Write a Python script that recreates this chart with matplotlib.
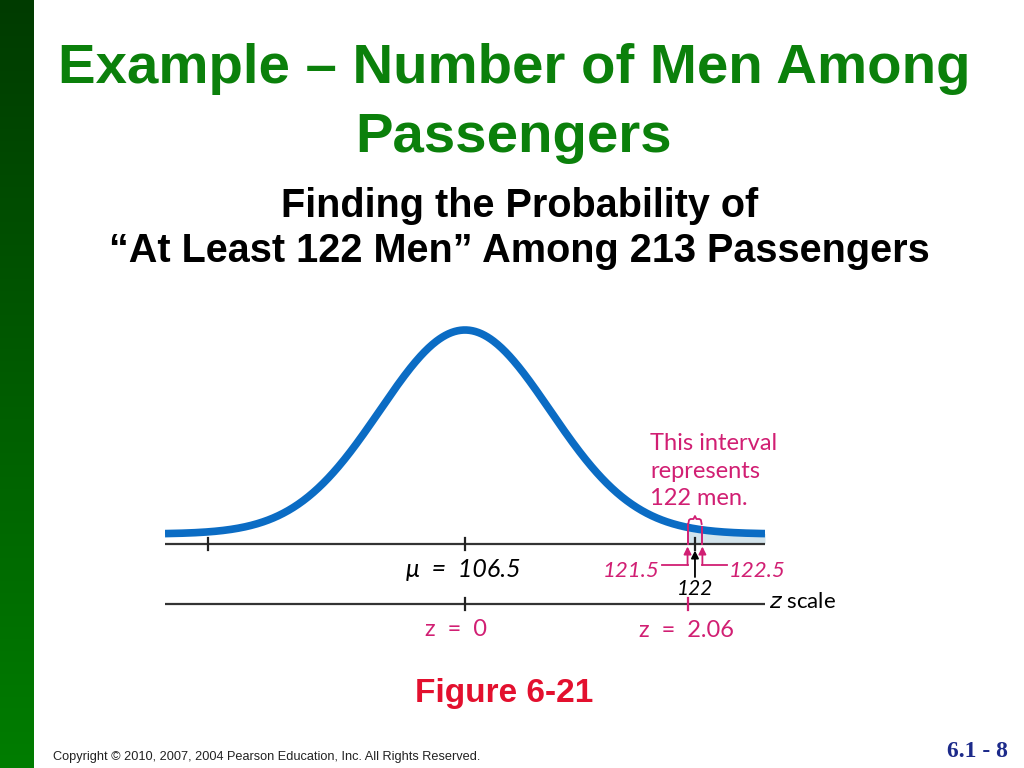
import numpy as np
import matplotlib.pyplot as plt
from matplotlib.colors import to_rgb

# values from the figure
MU = 106.5
LOW_EDGE = 121.5
HIGH_EDGE = 122.5
MEN = 122
COUNT_TICKS = [89.2, 106.5, 122]
Z_TICKS = [106.5, 121.5]
Z_LABELS = ['z  =  0', 'z  =  2.06']
X_RANGE = (86.28, 126.72)
DRAW_SD = 5.73  # spread of the drawn (schematic) curve

BLUE = '#0b6cc4'
PINK = '#d11f73'
SHADE = '#d3e4ec'
TITLE_GREEN = '#0b800b'

fig = plt.figure(figsize=(10.24, 7.68), dpi=100)

# green strip on the left
strip = fig.add_axes([0, 0, 34 / 1024, 1])
top, bottom = np.array(to_rgb('#003b00')), np.array(to_rgb('#007d00'))
t = np.linspace(0, 1, 256)[:, None]
grad = top + (bottom - top) * t
strip.imshow(grad[:, None, :], aspect='auto', extent=(0, 1, 0, 1))
strip.axis('off')


def fy(pix):
    return 1 - pix / 768


# titles
sans = 'Liberation Sans'
fig.text(0.502, fy(83), 'Example – Number of Men Among', ha='center', va='baseline',
         fontsize=40.6, fontweight='bold', color=TITLE_GREEN, family=sans)
fig.text(0.502, fy(152), 'Passengers', ha='center', va='baseline',
         fontsize=40.6, fontweight='bold', color=TITLE_GREEN, family=sans)
fig.text(0.507, fy(217), 'Finding the Probability of', ha='center', va='baseline',
         fontsize=28.5, fontweight='bold', color='black', family=sans)
fig.text(0.507, fy(262), '“At Least 122 Men” Among 213 Passengers', ha='center', va='baseline',
         fontsize=28.5, fontweight='bold', color='black', family=sans)
fig.text(0.492, fy(702), 'Figure 6-21', ha='center', va='baseline',
         fontsize=24, fontweight='bold', color='#e3102e', family=sans)
fig.text(53 / 1024, fy(760), 'Copyright © 2010, 2007, 2004 Pearson Education, Inc. All Rights Reserved.',
         ha='left', va='baseline', fontsize=9.2, color='#222222', family=sans)
fig.text(1008 / 1024, fy(757), '6.1 - 8', ha='right', va='baseline',
         fontsize=17, fontweight='bold', color='#1c2a8a', family='Liberation Serif')

# diagram axes: x in number of men, y in pixel rows
ax = fig.add_axes([165 / 1024, 0, 600 / 1024, 1])
ax.set_xlim(*X_RANGE)
ax.set_ylim(768, 0)
ax.axis('off')

AXIS_Y = 543.5
BASE_Y = 534
PEAK_H = 204
Z_Y = 604

x = np.linspace(X_RANGE[0], X_RANGE[1], 600)
curve = BASE_Y - PEAK_H * np.exp(-0.5 * ((x - MU) / DRAW_SD) ** 2)

# shaded area from 121.5 to the right
mask = x >= LOW_EDGE
ax.fill_between(x[mask], curve[mask], AXIS_Y, color=SHADE, lw=0, zorder=1)

ax.plot(x, curve, color=BLUE, lw=5.5, solid_capstyle='butt', zorder=3)

# count axis and z axis
ax.plot(X_RANGE, [AXIS_Y, AXIS_Y], color='#333333', lw=1.6, zorder=2)
for v in COUNT_TICKS:
    ax.plot([v, v], [AXIS_Y - 6, AXIS_Y + 6], color='#222222', lw=1.6, zorder=4)
ax.plot([X_RANGE[0], X_RANGE[1] - 0.1], [Z_Y, Z_Y], color='#333333', lw=1.6)
ax.plot([Z_TICKS[0]] * 2, [Z_Y - 6, Z_Y + 6], color='#222222', lw=1.6)
ax.plot([Z_TICKS[1]] * 2, [Z_Y - 6, Z_Y + 6], color=PINK, lw=1.6)


def c_at(v):
    return BASE_Y - PEAK_H * np.exp(-0.5 * ((v - MU) / DRAW_SD) ** 2)


# interval edges and brace
for v in (LOW_EDGE, HIGH_EDGE):
    ax.plot([v, v], [AXIS_Y, c_at(v) - 3], color=PINK, lw=1.4, zorder=4)
bx = [LOW_EDGE + 0.05, LOW_EDGE + 0.1, LOW_EDGE + 0.2, MEN - 0.1, MEN, MEN + 0.1,
      HIGH_EDGE - 0.2, HIGH_EDGE - 0.1, HIGH_EDGE - 0.05]
by = [524, 520, 519, 519, 516, 519, 519, 520, 524]
ax.plot(bx, by, color=PINK, lw=1.3)

hand = ['Lato', 'DejaVu Sans']
ax.text(LOW_EDGE - 2.5, 450, 'This interval', color=PINK, fontsize=17, family=hand)
ax.text(LOW_EDGE - 2.5, 478, 'represents', color=PINK, fontsize=17, family=hand)
ax.text(LOW_EDGE - 2.5, 505, '122 men.', color=PINK, fontsize=17, family=hand)

# arrows below the count axis
arrow = dict(arrowstyle='-|>', lw=1.3, mutation_scale=11, shrinkA=0, shrinkB=0)
ax.plot([LOW_EDGE - 1.75, LOW_EDGE], [565, 565], color=PINK, lw=1.3)
ax.annotate('', xy=(LOW_EDGE, AXIS_Y + 3), xytext=(LOW_EDGE, 565),
            arrowprops=dict(arrow, color=PINK))
ax.plot([HIGH_EDGE, HIGH_EDGE + 1.65], [565, 565], color=PINK, lw=1.3)
ax.annotate('', xy=(HIGH_EDGE, AXIS_Y + 3), xytext=(HIGH_EDGE, 565),
            arrowprops=dict(arrow, color=PINK))
ax.annotate('', xy=(MEN, AXIS_Y + 7), xytext=(MEN, 577),
            arrowprops=dict(arrow, color='black'))

ax.text(LOW_EDGE - 1.9, 577, f'{LOW_EDGE}', color=PINK, fontsize=16, style='italic',
        family=hand, ha='right')
ax.text(HIGH_EDGE + 1.75, 577, f'{HIGH_EDGE}', color=PINK, fontsize=16, style='italic',
        family=hand, ha='left')
ax.text(MEN, 595, f'{MEN}', color='black', fontsize=15, style='italic', family=hand, ha='center')
ax.text(MU - 0.1, 577, f'μ  =  {MU}', color='black', fontsize=18, style='italic',
        family=hand, ha='center')
ax.text(Z_TICKS[0] - 0.6, 636, Z_LABELS[0], color=PINK, fontsize=17, family=hand, ha='center')
ax.text(Z_TICKS[1] - 0.1, 637, Z_LABELS[1], color=PINK, fontsize=17, family=hand, ha='center')
ax.text(X_RANGE[1] + 0.3, 608, '$z$ scale', color='black', fontsize=16, family=hand,
        ha='left', clip_on=False)

fig.savefig('out.png', dpi=100)
